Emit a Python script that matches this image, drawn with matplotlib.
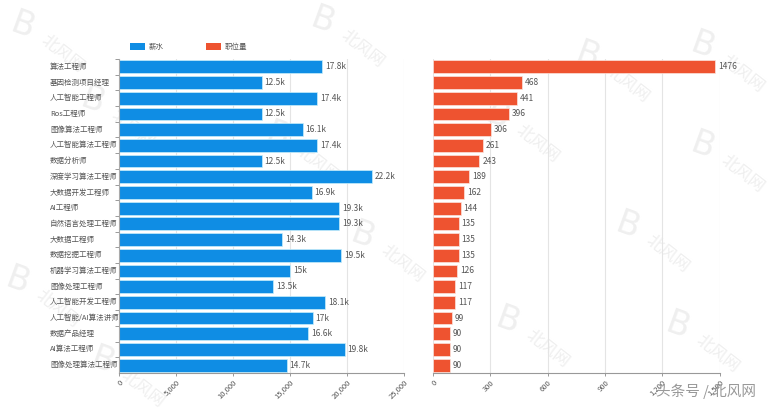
import matplotlib
matplotlib.use("Agg")
import matplotlib.pyplot as plt
from matplotlib.patches import Patch
from matplotlib.transforms import blended_transform_factory

plt.rcParams['font.family'] = ['Noto Sans CJK SC', 'DejaVu Sans']

categories = ["算法工程师", "基因检测项目经理", "人工智能工程师", "Ros工程师", "图像算法工程师",
              "人工智能算法工程师", "数据分析师", "深度学习算法工程师", "大数据开发工程师", "AI工程师",
              "自然语言处理工程师", "大数据工程师", "数据挖掘工程师", "机器学习算法工程师", "图像处理工程师",
              "人工智能开发工程师", "人工智能/AI算法讲师", "数据产品经理", "AI算法工程师", "图像处理算法工程师"]
salary = [17800, 12500, 17400, 12500, 16100, 17400, 12500, 22200, 16900, 19300,
          19300, 14300, 19500, 15000, 13500, 18100, 17000, 16600, 19800, 14700]
salary_labels = ["17.8k", "12.5k", "17.4k", "12.5k", "16.1k", "17.4k", "12.5k", "22.2k", "16.9k", "19.3k",
                 "19.3k", "14.3k", "19.5k", "15k", "13.5k", "18.1k", "17k", "16.6k", "19.8k", "14.7k"]
jobs = [1476, 468, 441, 396, 306, 261, 243, 189, 162, 144, 135, 135, 135, 126, 117, 117, 99, 90, 90, 90]
salary_ticks = [0, 5000, 10000, 15000, 20000, 25000]
jobs_ticks = [0, 300, 600, 900, 1200, 1500]
legend_names = ["薪水", "职位量"]
BLUE, RED = "#0f8de4", "#ee5330"
TXT = "#555555"

W, H = 780, 415
fig = plt.figure(figsize=(W / 100, H / 100), dpi=100, facecolor="white")

def axes(x0, x1, y0, y1):
    a = fig.add_axes([x0 / W, 1 - y1 / H, (x1 - x0) / W, (y1 - y0) / H])
    a.set_zorder(2)
    return a

# watermarks, painted under both axes
marks = [(45, 40), (115, 115), (40, 295), (125, 375), (345, 35), (385, 250), (520, 130), (610, 70),
         (725, 160), (530, 335), (700, 340), (650, 240), (725, 60), (300, 150)]
for mx, my in marks:
    fig.text((mx - 22) / W, 1 - (my - 14) / H, "B", fontsize=24, color="#efefef", rotation=-20,
             ha="center", va="center", zorder=0, family="DejaVu Sans")
    fig.text((mx + 18) / W, 1 - (my + 14) / H, "北风网", fontsize=12, color="#efefef", rotation=-38,
             ha="center", va="center", zorder=0)

ax1 = axes(119, 404, 59, 373)
ax2 = axes(433, 719.5, 59, 373)
y = list(range(len(categories)))

for ax in (ax1, ax2):
    ax.patch.set_alpha(0)
    ax.set_ylim(len(categories) - 0.5, -0.5)
    ax.set_axisbelow(True)
    ax.grid(axis="x", color="#e4e4e4", lw=0.8)
    for s in ("top", "right"):
        ax.spines[s].set_visible(False)
    ax.spines["left"].set_color("#aaaaaa")
    ax.spines["bottom"].set_color("#999999")
    ax.spines["left"].set_linewidth(0.8)
    ax.spines["bottom"].set_linewidth(0.8)

ax1.barh(y, salary, height=0.82, color=BLUE, edgecolor="#c8eefa", linewidth=0.5)
ax1.set_xlim(0, 25000)
ax1.set_xticks(salary_ticks)
ax1.set_xticklabels([f"{v:,}" for v in salary_ticks], rotation=45, fontsize=5.5, color=TXT,
                    ha="right", rotation_mode="anchor")
ax1.set_yticks([i - 0.5 for i in y])
ax1.set_yticklabels([])
ax1.tick_params(axis="y", length=3, color="#999999", width=0.7)
ax1.tick_params(axis="x", length=2, color="#999999", width=0.7, pad=2)
# category names are left aligned in a column that starts at x = 50 px
name_tf = blended_transform_factory(fig.transFigure, ax1.transData)
for i, (v, lab) in enumerate(zip(salary, salary_labels)):
    ax1.text(v + 250, i, lab, fontsize=6, color=TXT, va="center", ha="left")
    ax1.text(50 / W, i, categories[i], transform=name_tf,
             fontsize=5.4, color=TXT, va="center", ha="left", clip_on=False)

ax2.barh(y, jobs, height=0.82, color=RED, edgecolor="#fbe3dc", linewidth=0.5)
ax2.set_xlim(0, 1500)
ax2.set_xticks(jobs_ticks)
ax2.set_xticklabels([f"{v:,}" for v in jobs_ticks], rotation=45, fontsize=5.5, color=TXT,
                    ha="right", rotation_mode="anchor")
ax2.set_yticks([])
ax2.spines["left"].set_visible(False)
ax2.tick_params(axis="x", length=2, color="#999999", width=0.7, pad=2)
for i, v in enumerate(jobs):
    ax2.text(v + 15, i, str(v), fontsize=6, color=TXT, va="center", ha="left")

# legend
handles = [Patch(facecolor=BLUE, label=legend_names[0]), Patch(facecolor=RED, label=legend_names[1])]
fig.legend(handles=handles, loc="center left", bbox_to_anchor=(130 / W, 1 - 47 / H), ncol=2, frameon=False,
           fontsize=5.4, labelcolor=TXT, handlelength=2.0, handleheight=1.1, columnspacing=5.6,
           handletextpad=0.5, borderpad=0, borderaxespad=0)

fig.text(756 / W, 1 - 391 / H, "头条号 / 北风网", fontsize=10.5, color="#999999", ha="right", va="center", zorder=3)

fig.savefig("out.png", dpi=100)
